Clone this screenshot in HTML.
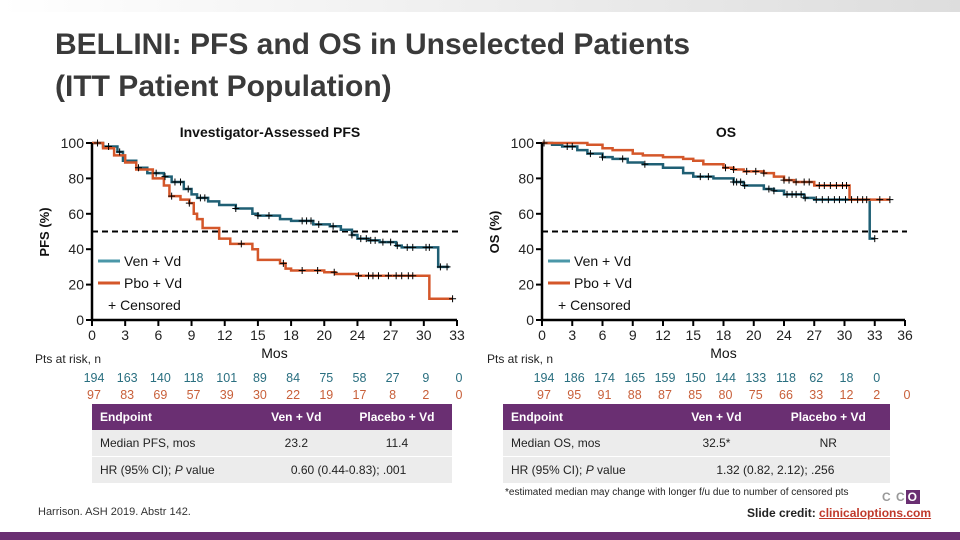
<!DOCTYPE html>
<html><head><meta charset="utf-8">
<style>
body{margin:0;width:960px;height:540px;overflow:hidden;background:#fff;font-family:"Liberation Sans",sans-serif;position:relative}
.abs{position:absolute}
.title{left:55px;top:24px;font-size:30px;font-weight:bold;color:#3a3a3a;line-height:42px}
table{position:absolute;border-collapse:collapse;font-size:12px;color:#222}
td{height:26px;padding:0 0 0 8px}
th{height:26px;background:#6a2f72;color:#fff;font-weight:bold;text-align:left;padding:0 0 0 8px;font-size:12px}
tr.r{background:#ececec}
</style></head><body>
<div class="abs" style="left:0;top:0;width:960px;height:12px;background:linear-gradient(90deg,#fff,#ddd)"></div>
<div class="abs title">BELLINI: PFS and OS in Unselected Patients<br>(ITT Patient Population)</div>
<svg class="abs" style="left:0;top:0" width="960" height="540" id="svg"></svg>

<table style="left:92px;top:404px;width:360px">
<tr><th>Endpoint</th><th style="text-align:center">Ven + Vd</th><th style="text-align:center">Placebo + Vd</th></tr>
<tr class="r"><td>Median PFS, mos</td><td style="text-align:center">23.2</td><td style="text-align:center">11.4</td></tr>
<tr class="r" style="border-top:1px solid #fff"><td>HR (95% CI); <i>P</i> value</td><td colspan="2" style="padding-left:40px">0.60 (0.44-0.83); .001</td></tr>
</table>
<table style="left:503px;top:404px;width:387px">
<tr><th>Endpoint</th><th style="text-align:center">Ven + Vd</th><th style="text-align:center">Placebo + Vd</th></tr>
<tr class="r"><td>Median OS, mos</td><td style="text-align:center">32.5*</td><td style="text-align:center">NR</td></tr>
<tr class="r" style="border-top:1px solid #fff"><td>HR (95% CI); <i>P</i> value</td><td colspan="2" style="padding-left:50px">1.32 (0.82, 2.12); .256</td></tr>
</table>
<div class="abs" style="left:505px;top:487px;font-size:10px;color:#222">*estimated median may change with longer f/u due to number of censored pts</div>
<div class="abs" style="left:38px;top:506px;font-size:11px;color:#333">Harrison. ASH 2019. Abstr 142.</div>
<div class="abs" style="left:882px;top:490px;width:44px;height:13px;font-size:12px;font-weight:bold;color:#999;letter-spacing:1px">C C<span style="background:#6a2f72;color:#fff;padding:0 2px">O</span></div>
<div class="abs" style="left:747px;top:506px;font-size:12px;font-weight:bold;color:#222">Slide credit: <span style="color:#c0392b;text-decoration:underline">clinicaloptions.com</span></div>
<div class="abs" style="left:0;top:532px;width:960px;height:8px;background:#6a2f72"></div>

<script>
const pfsTicks=["0","3","6","9","12","15","18","20","24","27","30","33"];
const osTicks=["0","3","6","9","12","15","18","20","24","27","30","33","36"];
const yTicks=[0,20,40,60,80,100];
const pfsVenT=[0,1,2.3,2.8,4,5,6.5,7.2,8.3,9,9.5,10.5,11.5,13,14.5,15,17,18,20,21.5,22.5,23.5,24,25,26,27.5,28,31.3,32.3];
const pfsVenS=[100,98,95,90,86,83,81,78,74,71,69,67,65,63,60,59,57,56,54,53,51,48,46,45,44,42,41,30,30];
const pfsPboT=[0,1,2,3,4,5.5,6.5,7,8,8.8,9.2,9.5,10,11.5,12.5,14.5,15,17,17.5,18,21,22,24,30.5,32.6];
const pfsPboS=[100,97,93,89,85,80,76,70,68,66,60,57,52,46,43,40,34,32,29,28,27,26,25,12,12];
const pfsVenCens=[0.5,1.5,2.5,4.2,5.8,6.6,7.5,8,8.7,9.8,10.2,13,15,16,19,19.4,19.8,20.5,21.8,23.5,24.3,24.8,25.2,25.6,26.3,27,27.6,28.5,29,30.2,30.5,31.5,32.1];
const pfsPboCens=[7.2,8.8,13.5,17.3,19,20.4,21.9,24.1,25,25.4,25.9,26.8,27.5,28,28.6,29,32.6];
const osVenT=[0,1,2,3.5,4.5,6,7,8.5,10,12,14,15,17,19,20,22,23,24,26,27,32.5,33];
const osVenS=[100,99,98,96,94,92,91,89,88,86,83,81,80,78,76,74,73,71,69,68,46,46];
const osPboT=[0,3,4.5,6,7,9,10,12,14,15,16,18,19,20,22,23,24,25,27,30.5,34.5];
const osPboS=[100,100,99,97,96,94,93,92,91,90,88,86,85,84,83,81,79,78,76,68,68];
const osVenCens=[2.5,3,4.8,6,8,10.2,15.7,16.5,19,19.3,19.7,20.1,22.5,23,24.3,24.8,25.2,25.7,26.1,27.2,27.8,28.4,29,29.5,30.1,30.7,31.3,31.8,32.2,33];
const osPboCens=[0.2,18.2,19,20.3,21.2,22,24,24.5,25.2,26,26.5,27.5,28,28.6,29.2,29.8,30.2,33.5,34.5];
const pfsVenRisk=["194","163","140","118","101","89","84","75","58","27","9","0"];
const pfsPboRisk=["97","83","69","57","39","30","22","19","17","8","2","0"];
const osVenRisk=["194","186","174","165","159","150","144","133","118","62","18","0"];
const osPboRisk=["97","95","91","88","87","85","80","75","66","33","12","2","0"];

const NS="http://www.w3.org/2000/svg", svg=document.getElementById('svg');
const TEAL="#1f5f74", ORANGE="#d4572a";
function el(tag,attrs,txt){const e=document.createElementNS(NS,tag);for(const k in attrs)e.setAttribute(k,attrs[k]);if(txt!==undefined)e.textContent=txt;svg.appendChild(e);return e;}

function chart(o){
  const X=m=>o.x0+(o.x1-o.x0)*m/o.xmax, Y=v=>320-(320-143)*v/100;
  let t=el('text',{x:o.tx,y:137,'text-anchor':'middle','font-size':14,'font-weight':'bold',fill:'#111'},o.title);
  
  let d=el('line',{x1:o.x0,x2:o.x1+2,y1:Y(50),y2:Y(50),stroke:'#000','stroke-width':2,'stroke-dasharray':'6,4'});
  
  function step(T,S,col,name){
    let p='M'+X(T[0])+','+Y(S[0]);
    for(let i=1;i<T.length;i++){p+=' H'+X(T[i])+' V'+Y(S[i]);}
    const e=el('path',{d:p,fill:'none',stroke:col,'stroke-width':2.5});
    
    return e;
  }
  function survAt(T,S,m){let v=S[0];for(let i=0;i<T.length;i++){if(T[i]<=m)v=S[i];}return v;}
  function cens(T,S,C,name){C.forEach(m=>{const x=X(m),y=Y(survAt(T,S,m));
    const e=el('path',{d:`M${x-3.5},${y}H${x+3.5}M${x},${y-3.5}V${y+3.5}`,stroke:'#000','stroke-width':1});
    });}
  step(o.vT,o.vS,TEAL,o.id+'-ven-curve');step(o.pT,o.pS,ORANGE,o.id+'-pbo-curve');
  cens(o.vT,o.vS,o.vC,o.id+'-ven-censor');cens(o.pT,o.pS,o.pC,o.id+'-pbo-censor');
  let ax=el('path',{d:`M${o.x0},143V320H${o.x1}`,fill:'none',stroke:'#000','stroke-width':2.5});
  
  yTicks.forEach(v=>{el('line',{x1:o.x0-6,x2:o.x0,y1:Y(v),y2:Y(v),stroke:'#000','stroke-width':2});
    const e=el('text',{x:o.x0-8,y:Y(v)+5,'text-anchor':'end','font-size':14,fill:'#222'},String(v));
    });
  const n=o.ticks.length-1;
  o.ticks.forEach((l,i)=>{const x=o.x0+(o.x1-o.x0)*i/n;
    el('line',{x1:x,x2:x,y1:320,y2:326,stroke:'#000','stroke-width':2});
    const e=el('text',{x:x,y:340,'text-anchor':'middle','font-size':14,fill:'#222'},l);
    });
  let yt=el('text',{x:0,y:0,transform:`translate(${o.x0-43},232) rotate(-90)`,'text-anchor':'middle','font-size':13,'font-weight':'bold',fill:'#111'},o.ylab);
  
  let xt=el('text',{x:(o.x0+o.x1)/2,y:358,'text-anchor':'middle','font-size':14,fill:'#111'},'Mos');
  
  const lx=o.x0+6;
  [[TEAL,'Ven + Vd',261],[ORANGE,'Pbo + Vd',283]].forEach(([c,l,y])=>{
    const ln=el('line',{x1:lx,x2:lx+22,y1:y,y2:y,stroke:c==TEAL?'#4a97a8':c,'stroke-width':3});
    
    const e=el('text',{x:lx+26,y:y+5,'font-size':14,fill:'#111'},l);
    });
  const ce=el('text',{x:lx+10,y:310,'font-size':14,fill:'#111'},'+  Censored');
  
  const pr=el('text',{x:o.px,y:363,'font-size':12,fill:'#222'},'Pts at risk, n');
  
  [[o.vR,TEAL,382],[o.pR,ORANGE,399]].forEach(([arr,c,y])=>arr.forEach((v,i)=>{
    const x=o.x0+(o.x1-o.x0)*i/n;
    const e=el('text',{x:x+2,y:y,'text-anchor':'middle','font-size':12.5,fill:c==TEAL?'#2a6f80':'#c8603a'},v);
    }));
}
chart({id:'pfs',x0:92,x1:457,xmax:33,ticks:pfsTicks,title:'Investigator-Assessed PFS',tx:270,ylab:'PFS (%)',px:35,
  vT:pfsVenT,vS:pfsVenS,pT:pfsPboT,pS:pfsPboS,vC:pfsVenCens,pC:pfsPboCens,vR:pfsVenRisk,pR:pfsPboRisk});
chart({id:'os',x0:542,x1:905,xmax:36,ticks:osTicks,title:'OS',tx:726,ylab:'OS (%)',px:487,
  vT:osVenT,vS:osVenS,pT:osPboT,pS:osPboS,vC:osVenCens,pC:osPboCens,vR:osVenRisk,pR:osPboRisk});
</script>
</body></html>
